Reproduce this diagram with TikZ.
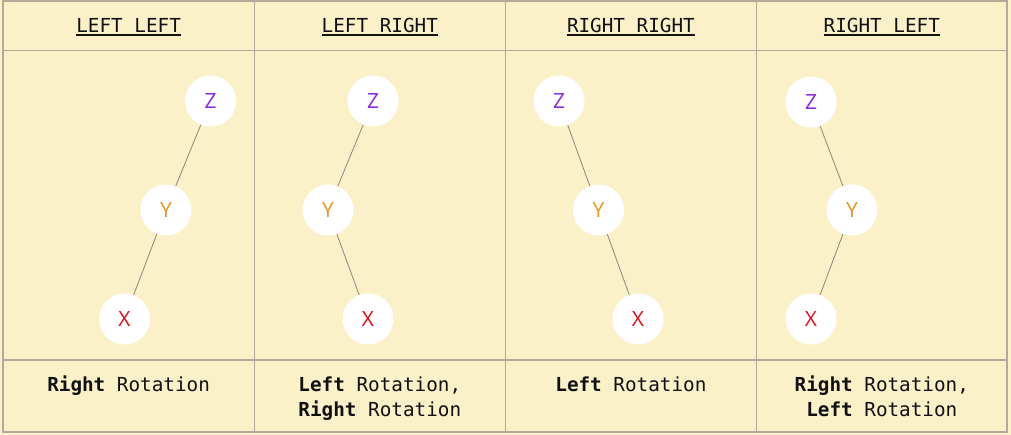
\documentclass[tikz,border=0pt]{standalone}
\usepackage{fontspec}
\setmainfont{Open Sans}
\setmonofont{DejaVu Sans Mono}
\newfontfamily\letterfont{Open Sans}
\definecolor{bgc}{HTML}{FBF1C9}
\definecolor{gridc}{HTML}{B3AA99}
\definecolor{edgec}{HTML}{8C8578}
\definecolor{zc}{HTML}{8A2BE2}
\definecolor{yc}{HTML}{E8961E}
\definecolor{xc}{HTML}{E0101A}
\definecolor{txt}{HTML}{111111}
\tikzset{
  gridline/.style={draw=gridc, line width=1.4pt},
  head/.style={font=\ttfamily\fontsize{19.3}{25}\selectfont, text=txt, anchor=base, inner sep=0pt},
  uline/.style={draw=txt, line width=1.6pt},
  capt/.style={font=\ttfamily\fontsize{19.3}{25}\selectfont, text=txt, anchor=base, inner sep=0pt},
  tn/.style={circle, fill=white, minimum size=51pt, inner sep=0pt, font=\letterfont\fontsize{21}{22}\selectfont},
  zn/.style={tn, text=zc},
  yn/.style={tn, text=yc},
  xn/.style={tn, text=xc},
  edge/.style={draw=edgec, line width=0.8pt}
}
\begin{document}
\begin{tikzpicture}[x=1pt,y=-1pt]
\fill[bgc] (0,0) rectangle (1011,435);
\useasboundingbox (0,0) rectangle (1011,435);
% grid
\draw[gridline] (3,1) rectangle (1007,432);
\draw[gridline] (3,50.5) -- (1007,50.5);
\draw[gridline] (3,360) -- (1007,360);
\draw[gridline] (254.3,1) -- (254.3,432);
\draw[gridline] (505.3,1) -- (505.3,432);
\draw[gridline] (756.5,1) -- (756.5,432);
% headers
\node[head] (h1) at (128.6,32.5) {LEFT LEFT};
\node[head] (h2) at (379.8,32.5) {LEFT RIGHT};
\node[head] (h3) at (630.9,32.5) {RIGHT RIGHT};
\node[head] (h4) at (881.8,32.5) {RIGHT LEFT};
\foreach \h in {h1,h2,h3,h4}
  \draw[uline] ([yshift=-2.3pt]\h.base west) -- ([yshift=-2.3pt]\h.base east);
% trees
\node[zn] (z1) at (210.5,101) {Z};
\node[yn] (y1) at (166,210) {Y};
\node[xn] (x1) at (124.5,319) {X};
\draw[edge] (z1) -- (y1);
\draw[edge] (y1) -- (x1);
\node[zn] (z2) at (373,101) {Z};
\node[yn] (y2) at (328,210) {Y};
\node[xn] (x2) at (368,319) {X};
\draw[edge] (z2) -- (y2);
\draw[edge] (y2) -- (x2);
\node[zn] (z3) at (559,101) {Z};
\node[yn] (y3) at (598.5,210) {Y};
\node[xn] (x3) at (638,319) {X};
\draw[edge] (z3) -- (y3);
\draw[edge] (y3) -- (x3);
\node[zn] (z4) at (811,102) {Z};
\node[yn] (y4) at (852,210) {Y};
\node[xn] (x4) at (811,319) {X};
\draw[edge] (z4) -- (y4);
\draw[edge] (y4) -- (x4);
% captions
\node[capt] (c1) at (128.6,391) {\textbf{Right} Rotation};
\node[capt] (c2a) at (379.8,391) {\textbf{Left} Rotation,};
\node[capt] (c2b) at (379.8,416.5) {\textbf{Right} Rotation};
\node[capt] (c3) at (630.9,391) {\textbf{Left} Rotation};
\node[capt] (c4a) at (881.8,391) {\textbf{Right} Rotation,};
\node[capt] (c4b) at (881.8,416.5) {\textbf{Left} Rotation};
\end{tikzpicture}
\end{document}
